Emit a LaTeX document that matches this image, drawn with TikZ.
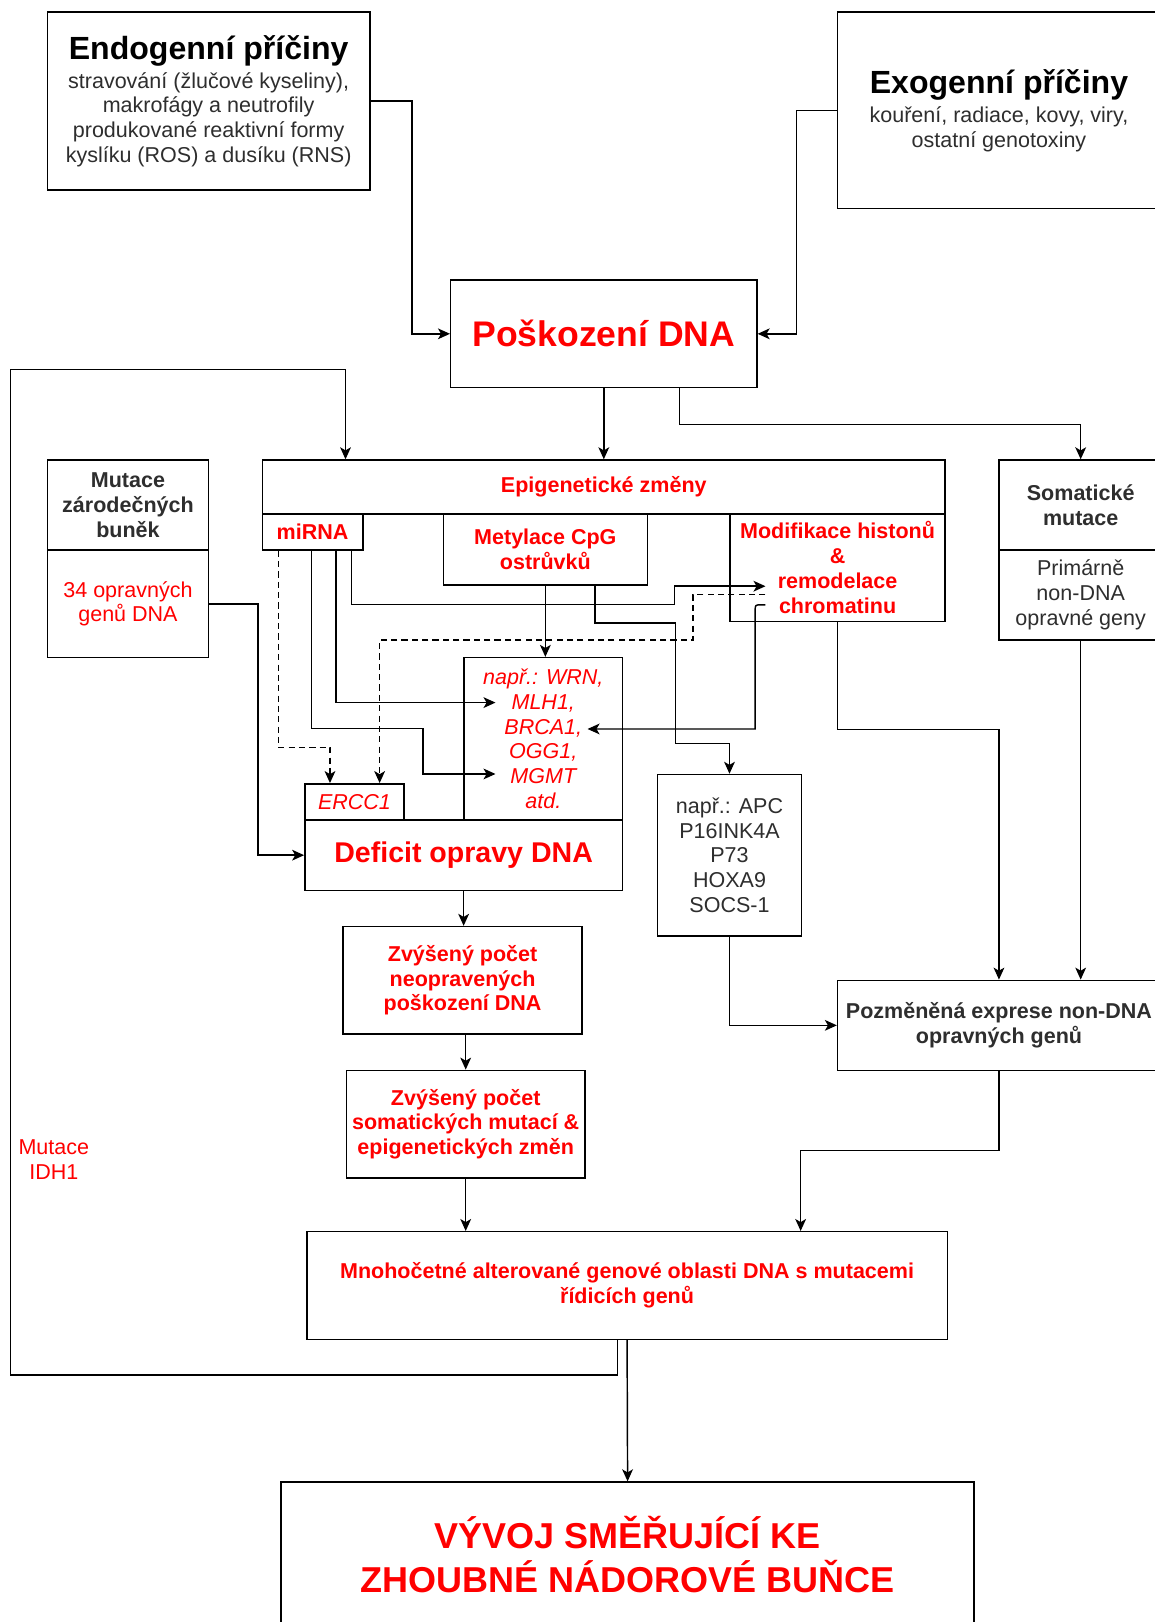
\documentclass[tikz,border=0pt]{standalone}
\usepackage{fontspec}
\setmainfont{Liberation Sans}
\usetikzlibrary{arrows.meta,calc}
\definecolor{rd}{HTML}{FF0000}
\definecolor{dg}{HTML}{2E2E2E}
\newcommand\fsn{\fontsize{10.4}{12}\selectfont}
\newcommand\fst{\fontsize{15.5}{18}\selectfont\bfseries}
\newcommand\fsp{\fontsize{17.2}{20}\selectfont\bfseries}
\newcommand\fsd{\fontsize{13.8}{16}\selectfont\bfseries}
\newcommand\fsf{\fontsize{17.4}{21}\selectfont\bfseries}
\newcommand\B[6][]{\node[bx,#1,anchor=north west,minimum width={(#4-#2)*0.5pt},minimum height={(#5-#3)*0.5pt}] (#6) at (#2,#3)}
\begin{document}
\begin{tikzpicture}[x=0.5pt,y=-0.5pt,
 bx/.style={draw,line width=0.7pt,inner sep=1pt,align=center,font=\fsn},
 rb/.style={text=rd,font=\fsn\bfseries},
 ri/.style={text=rd,font=\fsn\itshape},
 rn/.style={text=rd},
 gb/.style={text=dg,font=\fsn\bfseries},
 gn/.style={text=dg},
 arr/.style={draw,line width=0.7pt,-{Stealth[length=5.8pt,width=5.2pt,inset=1.5pt]}},
 dsh/.style={arr,dash pattern=on 3pt off 2pt}]
\useasboundingbox (0,0) rectangle (1116,1568);
\fill[white] (0,0) rectangle (1116,1568);

% boxes
\B[gn]{45}{11}{357}{183}{endo} {{\fst\color{black}Endogenní příčiny}\\[2pt]stravování (žlučové kyseliny),\\makrofágy a neutrofily\\produkované reaktivní formy\\kyslíku (ROS) a dusíku (RNS)};
\B[gn]{809}{11}{1121}{201}{exo} {{\fst\color{black}Exogenní příčiny}\\[2pt]kouření, radiace, kovy, viry,\\ostatní genotoxiny};
\B[rb,font=\fsp]{435}{270}{731}{374}{dmg} {Poškození DNA};
\B[gb]{45}{444}{201}{531}{gm1} {Mutace\\zárodečných\\buněk};
\B[rn]{45}{531}{201}{635}{gm2} {34 opravných\\genů DNA};
\B[rb]{253}{444}{913}{496}{epi} {Epigenetické změny};
\B[rb]{253}{496}{350}{531}{mir} {miRNA};
\B[rb]{428}{496}{625}{565}{met} {Metylace CpG\\ostrůvků};
\B[rb]{705}{496}{913}{600}{mod} {Modifikace histonů\\\&\\remodelace\\chromatinu};
\B[gb]{965}{444}{1123}{531}{som1} {Somatické\\mutace};
\B[gn]{965}{531}{1123}{618}{som2} {Primárně\\non-DNA\\opravné geny};
\B[ri]{448}{635}{601}{792}{nap} {např.: WRN,\\MLH1,\\BRCA1,\\OGG1,\\MGMT\\atd.};
\B[ri]{294}{757}{390}{792}{ercc} {ERCC1};
\B[rb,font=\fsd]{294}{792}{601}{860}{def} {Deficit opravy DNA};
\B[gn]{635}{748}{774}{904}{apc} {např.: APC\\P16INK4A\\P73\\HOXA9\\SOCS-1};
\B[rb]{331}{895}{562}{999}{zv1} {Zvýšený počet\\neopravených\\poškození DNA};
\B[rb]{334}{1034}{565}{1138}{zv2} {Zvýšený počet\\somatických mutací \&\\epigenetických změn};
\B[gb]{809}{947}{1121}{1034}{poz} {Pozměněná exprese non-DNA\\opravných genů};
\B[rb]{296}{1190}{915}{1294}{mno} {Mnohočetné alterované genové oblasti DNA s mutacemi\\řídicích genů};
\B{271}{1432}{941}{1580}{fin} {};
\node[text=rd,font=\fsf,align=center] (fintxt) at ($(fin.center)+(0,-4)$) {VÝVOJ SMĚŘUJÍCÍ KE\\ZHOUBNÉ NÁDOROVÉ BUŇCE};
\node[text=rd,font=\fsn,align=center] (idh) at (52,1121) {Mutace\\IDH1};

% connectors
\draw[arr] (endo.east) -- ++(40,0) |- (dmg.west);
\draw[arr] (exo.west) -- ++(-39,0) |- (dmg.east);
\draw[arr] (dmg.south) -- (epi.north);
\draw[arr] ($(dmg.south)+(73,0)$) -- ++(0,35) -| (som1.north);
\draw[arr] ($(mno.south)+(-9,0)$) -- ++(0,34) -| (10,357) -| ($(epi.north west)+(81,0)$);
\draw[arr] (gm2.east) -- ++(47,0) |- (def.west);

\draw[dsh] ($(mir.south west)+(16,0)$) -- ++(0,190) -| ($(ercc.north west)+(25,0)$);
\draw[arr] ($(mir.south west)+(48,0)$) -- ++(0,172) -| ($(nap.west)+(-39,34)$) -- ($(nap.west)+(31,34)$);
\draw[arr] ($(mir.south west)+(72,0)$) |- ($(nap.west)+(31,-35)$);
\draw[arr] ($(mir.south west)+(87,0)$) -- ++(0,52) -| ($(mod.west)+(-53,18)$) -- ($(mod.west)+(35,18)$);

\draw[arr] (met.south) -- (met.south |- nap.north);
\draw[arr] ($(met.south west)+(147,0)$) -- ++(0,36) -| ($(apc.north)+(-52,-29)$) -| (apc.north);

\draw[dsh] ($(mod.west)+(35,26)$) -| ($(mod.west)+(-35,70)$) -| ($(ercc.north west)+(73,0)$);
\draw[arr] ($(mod.west)+(35,36)$) -- ($(mod.west)+(31,36)$) .. controls ($(mod.west)+(25,36)$) .. ($(mod.west)+(25,42)$) -- ($(mod.west)+(25,156)$) -- ($(nap.west)+(120,-9.5)$);

\draw[arr] (mod.south) -- ++(0,104) -| (poz.north);
\draw[arr] (som2.south) -- (som2.south |- poz.north);
\draw[arr] (apc.south) |- (poz.west);
\draw[arr] (def.south) -- (def.south |- zv1.north);
\draw[arr] (zv1.south -| zv2.north) -- (zv2.north);
\draw[arr] (zv2.south) -- (zv2.south |- mno.north);
\draw[arr] (poz.south) -- ++(0,77) -| ($(mno.north west)+(478,0)$);
\draw[arr] (mno.south) -- (fin.north);
\end{tikzpicture}
\end{document}
